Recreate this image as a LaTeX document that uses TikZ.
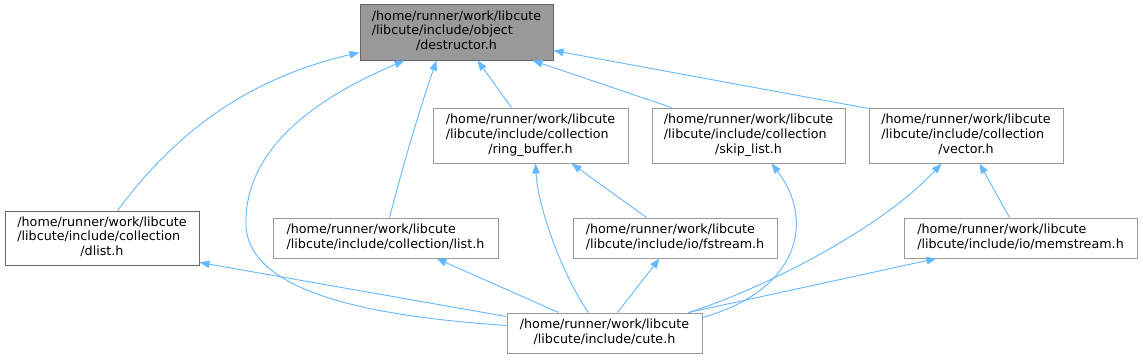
\documentclass[tikz,border=0pt]{standalone}
\usepackage{fontspec}
\setmainfont{DejaVu Sans}
\usetikzlibrary{arrows.meta,calc}
\definecolor{edgeblue}{HTML}{63B8FF}
\definecolor{rootfill}{HTML}{999999}
\definecolor{darkborder}{HTML}{666666}
\definecolor{lightborder}{HTML}{999999}
\newcommand{\twol}[2]{\begin{tabular}{@{}l@{}}#1\\\multicolumn{1}{@{}c@{}}{#2}\end{tabular}}
\newcommand{\threel}[3]{\begin{tabular}{@{}l@{}}#1\\#2\\\multicolumn{1}{@{}c@{}}{#3}\end{tabular}}
\tikzset{
  filebox/.style={draw=lightborder, line width=1pt, fill=white, inner sep=0pt, rectangle,
    font=\fontsize{12.7}{14.8}\selectfont, align=center},
  darkbox/.style={filebox, draw=darkborder},
  rootbox/.style={filebox, draw=darkborder, fill=rootfill},
  tallbox/.style={minimum height=55pt},
  lowbox/.style={minimum height=40pt},
  edge/.style={draw=edgeblue, line width=0.9pt, -{Triangle[length=10pt,width=7.5pt]}}
}
\begin{document}
\begin{tikzpicture}[x=1pt,y=-1pt]
\useasboundingbox[fill=white] (0,0) rectangle (1143,359);
% nodes
\node[rootbox, tallbox, minimum width=193pt, minimum height=56pt] (root) at (456.5,32)
  {\threel{/home/runner/work/libcute}{/libcute/include/object}{/destructor.h}};
\node[darkbox, tallbox, minimum width=194pt, minimum height=54pt] (dlist) at (102,238)
  {\threel{/home/runner/work/libcute}{/libcute/include/collection}{/dlist.h}};
\node[filebox, tallbox, minimum width=195pt] (ring) at (530.5,135.5)
  {\threel{/home/runner/work/libcute}{/libcute/include/collection}{/ring\_buffer.h}};
\node[filebox, tallbox, minimum width=193pt] (skip) at (748.5,135.5)
  {\threel{/home/runner/work/libcute}{/libcute/include/collection}{/skip\_list.h}};
\node[filebox, tallbox, minimum width=194pt] (vector) at (966,135.5)
  {\threel{/home/runner/work/libcute}{/libcute/include/collection}{/vector.h}};
\node[filebox, lowbox, minimum width=225pt] (list) at (385.5,238)
  {\twol{/home/runner/work/libcute}{/libcute/include/collection/list.h}};
\node[filebox, lowbox, minimum width=204pt] (fstream) at (675,238)
  {\twol{/home/runner/work/libcute}{/libcute/include/io/fstream.h}};
\node[filebox, lowbox, minimum width=233pt] (memstream) at (1020.5,238)
  {\twol{/home/runner/work/libcute}{/libcute/include/io/memstream.h}};
\node[filebox, lowbox, minimum width=195pt] (cute) at (604.5,333)
  {\twol{/home/runner/work/libcute}{/libcute/include/cute.h}};
% edges to destructor.h
\draw[edge] ($(dlist.north west)+(113,0)$) .. controls (170,140) and (240,80) .. ($(root.south west)+(0,-8)$);
\draw[edge] ($(cute.north west)+(0,13)$) .. controls (400,318) and (250,300) .. (246,226)
  .. controls (243,140) and (335,90) .. ($(root.south west)+(45,0)$);
\draw[edge] ($(list.north west)+(117,0)$) .. controls (402,170) and (416,120) .. ($(root.south west)+(77,0)$);
\draw[edge] ($(ring.north west)+(79,0)$) -- ($(root.south west)+(118,0)$);
\draw[edge] ($(skip.north west)+(20,0)$) -- ($(root.south west)+(173,0)$);
\draw[edge] ($(vector.north west)+(0,1)$) -- ($(root.south east)+(0,-10)$);
% edges from cute.h and others
\draw[edge] ($(cute.north west)+(0,4)$) -- ($(dlist.south east)+(0,-3)$);
\draw[edge] ($(cute.north west)+(52,0)$) -- ($(list.south west)+(164,0)$);
\draw[edge] ($(cute.north west)+(82,0)$) .. controls (565,280) and (538,210) .. ($(ring.south west)+(103,0)$);
\draw[edge] ($(fstream.north west)+(74,0)$) -- ($(ring.south west)+(139,0)$);
\draw[edge] ($(cute.north west)+(111,0)$) -- ($(fstream.south west)+(87,0)$);
\draw[edge] ($(cute.north east)+(0,5)$) .. controls (800,290) and (815,220) .. ($(skip.south west)+(120,0)$);
\draw[edge] ($(cute.north east)+(-14,0)$) .. controls (760,290) and (880,230) .. ($(vector.south west)+(73,0)$);
\draw[edge] ($(memstream.north west)+(106,0)$) -- ($(vector.south west)+(111,0)$);
\draw[edge] ($(cute.north east)+(-14,0)$) -- ($(memstream.south west)+(33,0)$);
\end{tikzpicture}
\end{document}
